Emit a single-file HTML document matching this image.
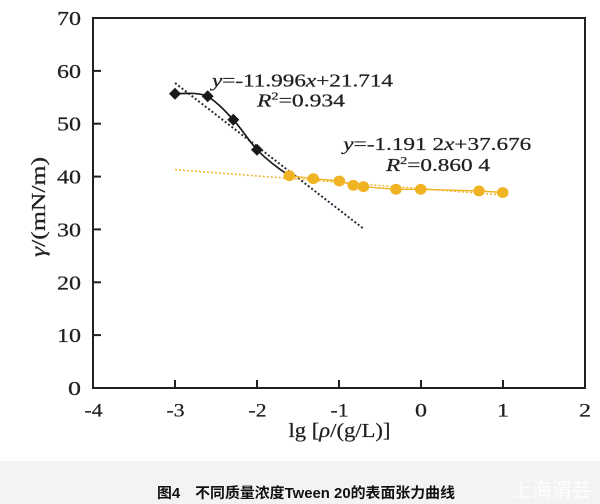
<!DOCTYPE html>
<html>
<head>
<meta charset="utf-8">
<style>
html,body{margin:0;padding:0;background:#fff;}
svg{display:block;}
</style>
</head>
<body>
<svg width="600" height="504" viewBox="0 0 600 504" xmlns="http://www.w3.org/2000/svg">
  <rect x="0" y="0" width="600" height="504" fill="#ffffff"/>
  <rect x="0" y="461" width="600" height="43" fill="#f3f3f3"/>

  <!-- frame -->
  <rect x="93" y="18" width="492" height="370" fill="none" stroke="#231f20" stroke-width="2"/>
  <g stroke="#231f20" stroke-width="2">
    <line x1="175" y1="388" x2="175" y2="380"/>
    <line x1="257" y1="388" x2="257" y2="380"/>
    <line x1="339" y1="388" x2="339" y2="380"/>
    <line x1="421" y1="388" x2="421" y2="380"/>
    <line x1="503" y1="388" x2="503" y2="380"/>
    <line x1="93" y1="335.1" x2="101" y2="335.1"/>
    <line x1="93" y1="282.3" x2="101" y2="282.3"/>
    <line x1="93" y1="229.4" x2="101" y2="229.4"/>
    <line x1="93" y1="176.6" x2="101" y2="176.6"/>
    <line x1="93" y1="123.7" x2="101" y2="123.7"/>
    <line x1="93" y1="70.9" x2="101" y2="70.9"/>
  </g>

  <!-- y tick labels -->
  <g font-family="Liberation Serif, serif" font-size="20" fill="#231f20" stroke="#231f20" stroke-width="0.25">
    <text x="68" y="395" textLength="13" lengthAdjust="spacingAndGlyphs">0</text>
    <text x="57" y="342.1" textLength="24" lengthAdjust="spacingAndGlyphs">10</text>
    <text x="57" y="289.3" textLength="24" lengthAdjust="spacingAndGlyphs">20</text>
    <text x="57" y="236.4" textLength="24" lengthAdjust="spacingAndGlyphs">30</text>
    <text x="57" y="183.6" textLength="24" lengthAdjust="spacingAndGlyphs">40</text>
    <text x="57" y="130.7" textLength="24" lengthAdjust="spacingAndGlyphs">50</text>
    <text x="57" y="77.9" textLength="24" lengthAdjust="spacingAndGlyphs">60</text>
    <text x="57" y="25" textLength="24" lengthAdjust="spacingAndGlyphs">70</text>
  </g>

  <!-- x tick labels -->
  <g font-family="Liberation Serif, serif" font-size="19" fill="#231f20" stroke="#231f20" stroke-width="0.25">
    <text x="84.5" y="416.5" textLength="18" lengthAdjust="spacingAndGlyphs">-4</text>
    <text x="166.5" y="416.5" textLength="18" lengthAdjust="spacingAndGlyphs">-3</text>
    <text x="248.5" y="416.5" textLength="18" lengthAdjust="spacingAndGlyphs">-2</text>
    <text x="330.5" y="416.5" textLength="18" lengthAdjust="spacingAndGlyphs">-1</text>
    <text x="415" y="416.5" textLength="12" lengthAdjust="spacingAndGlyphs">0</text>
    <text x="497" y="416.5" textLength="12" lengthAdjust="spacingAndGlyphs">1</text>
    <text x="579" y="416.5" textLength="12" lengthAdjust="spacingAndGlyphs">2</text>
  </g>

  <!-- axis titles -->
  <text x="288.5" y="437" font-family="Liberation Serif, serif" font-size="20" fill="#231f20" stroke="#231f20" stroke-width="0.25" textLength="102" lengthAdjust="spacingAndGlyphs">lg [<tspan font-style="italic">ρ</tspan>/(g/L)]</text>
  <text transform="translate(45,207) rotate(-90)" text-anchor="middle" font-family="Liberation Serif, serif" font-size="20" fill="#231f20" stroke="#231f20" stroke-width="0.25" textLength="100" lengthAdjust="spacingAndGlyphs"><tspan font-style="italic">γ</tspan>/(mN/m)</text>

  <!-- trend lines -->
  <line x1="175" y1="83" x2="363.3" y2="228.5" stroke="#2a2a38" stroke-width="2" stroke-dasharray="2 2.2"/>
  <line x1="175" y1="169.6" x2="503" y2="195" stroke="#f5b733" stroke-width="1.6" stroke-dasharray="2 2"/>

  <!-- black curve -->
  <path d="M175,93.7 C188,93.2 199,92.6 207.7,96.3 C218,103 225,111 233.3,119.7 C241,128 249,141 257,149.7 C267,160 279,169 289.3,175.7" fill="none" stroke="#1a1a1a" stroke-width="1.7"/>

  <!-- yellow line -->
  <polyline points="289.3,175.7 313.3,178.7 339.3,181 353.3,185.3 363.5,186.7 396,189.3 420.7,189.3 479,190.9 502.7,192.5" fill="none" stroke="#f0b323" stroke-width="1.4"/>

  <!-- yellow markers -->
  <g fill="#f0b323">
    <ellipse cx="289.3" cy="175.7" rx="5.8" ry="5.4"/>
    <ellipse cx="313.3" cy="178.7" rx="5.8" ry="5.4"/>
    <ellipse cx="339.3" cy="181" rx="5.8" ry="5.4"/>
    <ellipse cx="353.3" cy="185.3" rx="5.8" ry="5.4"/>
    <ellipse cx="363.5" cy="186.7" rx="5.8" ry="5.4"/>
    <ellipse cx="396" cy="189.3" rx="5.8" ry="5.4"/>
    <ellipse cx="420.7" cy="189.3" rx="5.8" ry="5.4"/>
    <ellipse cx="479" cy="190.9" rx="5.8" ry="5.4"/>
    <ellipse cx="502.7" cy="192.5" rx="5.8" ry="5.4"/>
  </g>

  <!-- black diamonds -->
  <g fill="#1a1a1a">
    <polygon points="175,87.7 181,93.7 175,99.7 169,93.7"/>
    <polygon points="207.7,90.3 213.7,96.3 207.7,102.3 201.7,96.3"/>
    <polygon points="233.3,113.7 239.3,119.7 233.3,125.7 227.3,119.7"/>
    <polygon points="257,143.7 263,149.7 257,155.7 251,149.7"/>
  </g>

  <!-- equations -->
  <g font-family="Liberation Serif, serif" font-size="18" fill="#231f20" stroke="#231f20" stroke-width="0.25">
    <text x="212" y="86.5" textLength="181" lengthAdjust="spacingAndGlyphs"><tspan font-style="italic">y</tspan>=-11.996<tspan font-style="italic">x</tspan>+21.714</text>
    <text x="257" y="106.5" textLength="88" lengthAdjust="spacingAndGlyphs"><tspan font-style="italic">R</tspan><tspan font-size="11" dy="-7">2</tspan><tspan dy="7">=0.934</tspan></text>
    <text x="343.3" y="150" textLength="188" lengthAdjust="spacingAndGlyphs"><tspan font-style="italic">y</tspan>=-1.191 2<tspan font-style="italic">x</tspan>+37.676</text>
    <text x="386" y="171" textLength="104" lengthAdjust="spacingAndGlyphs"><tspan font-style="italic">R</tspan><tspan font-size="11" dy="-7">2</tspan><tspan dy="7">=0.860 4</tspan></text>
  </g>

  <!-- caption -->
  <text x="157" y="498" font-family="Liberation Sans, Noto Sans CJK SC, sans-serif" font-weight="bold" font-size="14.5" fill="#111" textLength="298" lengthAdjust="spacingAndGlyphs">图4　不同质量浓度Tween 20的表面张力曲线</text>
  <!-- watermark -->
  <text x="512" y="497" font-family="Noto Sans CJK SC, sans-serif" font-size="20" fill="#ffffff" fill-opacity="0.9">上海渭芸</text>
</svg>
</body>
</html>
